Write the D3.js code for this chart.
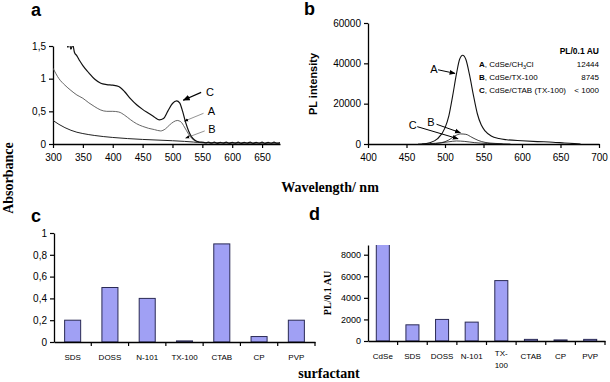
<!DOCTYPE html>
<html>
<head>
<meta charset="utf-8">
<script src="https://cdn.jsdelivr.net/npm/d3@7"></script>
<style>
  body { margin: 0; background: #fff; }
  svg { display: block; font-family: "Liberation Sans", Arial, sans-serif; }
  .serif { font-family: "Liberation Serif", "Times New Roman", serif; font-weight: bold; }
</style>
</head>
<body>
<div id="chart"></div>
<script>
// ---- panel a: absorbance spectra (wavelength, absorbance)
const absA = [[300,1.16],[310,1.0],[320,0.9],[330,0.82],[340,0.75],[350,0.7],[360,0.63],[370,0.57],[380,0.52],[390,0.5],[400,0.5],[410,0.49],[420,0.44],[430,0.37],[440,0.31],[450,0.27],[460,0.24],[470,0.22],[480,0.2],[488,0.23],[495,0.29],[502,0.34],[508,0.36],[514,0.34],[520,0.26],[527,0.15],[533,0.08],[540,0.04],[550,0.02],[570,0.015],[600,0.012],[640,0.01],[680,0.01]]
const absB = [[300,0.36],[310,0.3],[320,0.25],[330,0.21],[340,0.18],[350,0.16],[370,0.13],[400,0.1],[450,0.07],[500,0.05],[520,0.04],[535,0.03],[550,0.02],[600,0.015],[680,0.01]]
const absC = [[322,1.62],[325,1.48],[327,1.56],[330,1.45],[333,1.52],[336,1.4],[340,1.35],[345,1.27],[350,1.2],[360,1.09],[370,0.99],[380,0.93],[390,0.91],[400,0.9],[410,0.88],[420,0.8],[430,0.69],[440,0.6],[450,0.53],[460,0.47],[470,0.41],[478,0.37],[485,0.39],[492,0.5],[500,0.62],[507,0.66],[512,0.63],[517,0.5],[522,0.33],[527,0.2],[532,0.11],[537,0.06],[545,0.03],[552,0.025],[556,0.015],[560,0.03],[565,0.012],[570,0.028],[575,0.01],[580,0.025],[585,0.012],[590,0.03],[595,0.01],[600,0.025],[605,0.012],[610,0.028],[615,0.01],[620,0.025],[625,0.012],[630,0.03],[635,0.01],[640,0.025],[645,0.012],[650,0.028],[655,0.01],[660,0.025],[665,0.012],[670,0.028],[675,0.012],[680,0.02]]
const absTicks = [0, 0.5, 1, 1.5]
const wlTicksA = [300,350,400,450,500,550,600,650]

// ---- panel b: PL spectra (wavelength, intensity)
const plA = [[470,0],[480,600],[490,2500],[500,8000],[505,14000],[510,24000],[515,35000],[519,42000],[523,44000],[527,42000],[532,34000],[537,24000],[542,15000],[547,9500],[552,6500],[560,4000],[570,2700],[580,2100],[600,1600],[620,1200],[640,900],[655,500],[668,200],[676,0]]
const plB = [[480,0],[495,600],[505,2000],[513,4000],[520,5000],[527,4800],[535,3300],[543,1800],[552,800],[565,300],[585,0]]
const plC = [[465,0],[480,200],[495,600],[505,1100],[515,1500],[525,1300],[538,700],[555,250],[575,0]]
const plTicks = [0, 20000, 40000, 60000]
const wlTicksB = [400,450,500,550,600,650,700]
const legendRows = [
  {key: "A", name: "CdSe/CH", sub: "3", tail: "Cl", value: "12444"},
  {key: "B", name: "CdSe/TX-100", sub: "", tail: "", value: "8745"},
  {key: "C", name: "CdSe/CTAB (TX-100)", sub: "", tail: "", value: "< 1000"}
]

// ---- panel c: absorbance per surfactant
const surfC = ["SDS","DOSS","N-101","TX-100","CTAB","CP","PVP"]
const absBar = [0.2, 0.5, 0.4, 0.01, 0.9, 0.05, 0.2]
const absBarTicks = [0, 0.2, 0.4, 0.6, 0.8, 1]

// ---- panel d: PL per 0.1 AU
const surfD = ["CdSe","SDS","DOSS","N-101","TX-100","CTAB","CP","PVP"]
const plBar = [12444, 1500, 2000, 1750, 5600, 150, 100, 150]
const plBarTicks = [0, 2000, 4000, 6000, 8000]

const W = 610, H = 382
const comma = d => String(d).replace(".", ",")
const plain = d3.format("d")
const barFill = "#a0a0f4", barStroke = "#2a2a55"

const svg = d3.select("#chart").append("svg").attr("width", W).attr("height", H)
svg.append("rect").attr("width", W).attr("height", H).attr("fill", "#fff")

const defs = svg.append("defs")
defs.append("marker").attr("id", "arr").attr("viewBox", "0 0 10 10")
  .attr("refX", 9).attr("refY", 5).attr("markerWidth", 6).attr("markerHeight", 6)
  .attr("orient", "auto")
  .append("path").attr("d", "M0,1 L10,5 L0,9 z").attr("fill", "#000")

function styleAxis(g, fs) {
  g.select(".domain").attr("stroke", "#000").attr("stroke-width", 1.3)
  g.selectAll(".tick line").attr("stroke", "#000").attr("stroke-width", 1.2)
  g.selectAll("text").attr("font-size", fs).attr("fill", "#000")
    .attr("font-family", "'Liberation Sans', Arial, sans-serif")
}

// ================= panel a =================
const xa = d3.scaleLinear().domain([300, 680]).range([53, 280])
const ya = d3.scaleLinear().domain([0, 1.5]).range([144, 46])

defs.append("clipPath").attr("id", "clipA").append("rect")
  .attr("x", 53).attr("y", 46).attr("width", 230).attr("height", 100)

svg.append("g").attr("transform", "translate(0,144)")
  .call(d3.axisBottom(xa).tickValues(wlTicksA).tickSizeInner(4).tickSizeOuter(0).tickPadding(6))
  .call(g => styleAxis(g, 10))
svg.append("g").attr("transform", "translate(53,0)")
  .call(d3.axisLeft(ya).tickValues(absTicks).tickFormat(comma).tickSizeInner(4).tickSizeOuter(0).tickPadding(3))
  .call(g => styleAxis(g, 10))

const lineA = d3.line().x(d => xa(d[0])).y(d => ya(d[1])).curve(d3.curveMonotoneX)
const aCurves = [
  {data: absB, stroke: "#222", w: 1},
  {data: absA, stroke: "#555", w: 0.9},
  {data: absC, stroke: "#111", w: 1.2}
]
svg.append("g").attr("clip-path", "url(#clipA)")
  .selectAll("path").data(aCurves).join("path")
  .attr("d", d => lineA(d.data)).attr("fill", "none")
  .attr("stroke", d => d.stroke).attr("stroke-width", d => d.w)

// annotations panel a
const annA = [
  {label: "C", tail: [548, 0.79], tip: [518, 0.67], lx: 556, ly: 0.79},
  {label: "A", tail: [552, 0.47], tip: [520, 0.35], lx: 559, ly: 0.5},
  {label: "B", tail: [554, 0.2], tip: [522, 0.09], lx: 560, ly: 0.22}
]
svg.append("g").selectAll("line").data(annA).join("line")
  .attr("x1", d => xa(d.tail[0])).attr("y1", d => ya(d.tail[1]))
  .attr("x2", d => xa(d.tip[0])).attr("y2", d => ya(d.tip[1]))
  .attr("stroke", d => d.label === "C" ? "#000" : "#666")
  .attr("stroke-width", d => d.label === "C" ? 1.2 : 0.7)
  .attr("marker-end", "url(#arr)")
svg.append("g").selectAll("text").data(annA).join("text")
  .attr("x", d => xa(d.lx)).attr("y", d => ya(d.ly)).attr("dy", "0.35em")
  .attr("font-size", 11).text(d => d.label)

// ================= panel b =================
const xb = d3.scaleLinear().domain([400, 700]).range([368, 599])
const yb = d3.scaleLinear().domain([0, 60000]).range([144, 23])

svg.append("g").attr("transform", "translate(0,144)")
  .call(d3.axisBottom(xb).tickValues(wlTicksB).tickSizeInner(4).tickSizeOuter(0).tickPadding(6))
  .call(g => styleAxis(g, 10))
svg.append("g").attr("transform", "translate(368,0)")
  .call(d3.axisLeft(yb).tickValues(plTicks).tickFormat(plain).tickSizeInner(4).tickSizeOuter(0).tickPadding(3))
  .call(g => styleAxis(g, 10))

const lineB = d3.line().x(d => xb(d[0])).y(d => yb(d[1])).curve(d3.curveMonotoneX)
svg.append("g").selectAll("path").data([plC, plB, plA]).join("path")
  .attr("d", d => lineB(d)).attr("fill", "none")
  .attr("stroke", "#111").attr("stroke-width", (d, i) => i === 2 ? 1.1 : 0.8)

const annB = [
  {label: "A", tail: [491, 36800], tip: [513, 35000], lx: 481, ly: 37000},
  {label: "B", tail: [489, 9800], tip: [520, 5600], lx: 477, ly: 10800},
  {label: "C", tail: [464, 8600], tip: [517, 2600], lx: 453, ly: 9200}
]
svg.append("g").selectAll("line").data(annB).join("line")
  .attr("x1", d => xb(d.tail[0])).attr("y1", d => yb(d.tail[1]))
  .attr("x2", d => xb(d.tip[0])).attr("y2", d => yb(d.tip[1]))
  .attr("stroke", "#000").attr("stroke-width", 1).attr("marker-end", "url(#arr)")
svg.append("g").selectAll("text").data(annB).join("text")
  .attr("x", d => xb(d.lx)).attr("y", d => yb(d.ly)).attr("dy", "0.35em")
  .attr("font-size", 11).text(d => d.label)

// legend in panel b
svg.append("text").attr("x", 599).attr("y", 54).attr("text-anchor", "end")
  .attr("font-size", 8.5).attr("font-weight", "bold").text("PL/0.1 AU")
const leg = svg.append("g").selectAll("g").data(legendRows).join("g")
  .attr("transform", (d, i) => `translate(0,${67 + i * 13})`)
leg.append("text").attr("x", 479).attr("font-size", 8)
  .each(function (d) {
    const t = d3.select(this)
    t.append("tspan").attr("font-weight", "bold").text(d.key)
    t.append("tspan").text(", " + d.name)
    if (d.sub) {
      t.append("tspan").attr("font-size", 5.5).attr("dy", 2).text(d.sub)
      t.append("tspan").attr("dy", -2).text(d.tail)
    }
  })
leg.append("text").attr("x", 599).attr("text-anchor", "end").attr("font-size", 8)
  .text(d => d.value)

// ================= panel c =================
const xc = d3.scaleBand().domain(surfC).range([54, 315]).paddingInner(0.57).paddingOuter(0.285)
const xcT = d3.scaleBand().domain(surfC).range([54, 315])
const yc = d3.scaleLinear().domain([0, 1]).range([342, 233])

svg.append("g").selectAll("rect").data(surfC).join("rect")
  .attr("x", d => xc(d)).attr("width", xc.bandwidth())
  .attr("y", (d, i) => yc(absBar[i])).attr("height", (d, i) => yc(0) - yc(absBar[i]))
  .attr("fill", barFill).attr("stroke", barStroke).attr("stroke-width", 1)

svg.append("g").attr("transform", "translate(0,342)")
  .call(d3.axisBottom(xcT).tickSize(0).tickPadding(12))
  .call(g => styleAxis(g, 8))
  .call(g => g.selectAll(".sep").data(surfC).join("line").attr("class", "sep")
    .attr("x1", d => xcT(d) + xcT.bandwidth()).attr("x2", d => xcT(d) + xcT.bandwidth())
    .attr("y1", 0).attr("y2", 4).attr("stroke", "#000").attr("stroke-width", 1.2))
svg.append("g").attr("transform", "translate(54,0)")
  .call(d3.axisLeft(yc).tickValues(absBarTicks).tickFormat(comma).tickSizeInner(4).tickSizeOuter(0).tickPadding(3))
  .call(g => styleAxis(g, 10))

// ================= panel d =================
const xd = d3.scaleBand().domain(surfD).range([368, 605]).paddingInner(0.56).paddingOuter(0.28)
const xdT = d3.scaleBand().domain(surfD).range([368, 605])
const yd = d3.scaleLinear().domain([0, 8900]).range([341, 245])

defs.append("clipPath").attr("id", "clipD").append("rect")
  .attr("x", 368).attr("y", 245).attr("width", 240).attr("height", 100)
svg.append("g").attr("clip-path", "url(#clipD)")
  .selectAll("rect").data(surfD).join("rect")
  .attr("x", d => xd(d)).attr("width", xd.bandwidth())
  .attr("y", (d, i) => yd(plBar[i])).attr("height", (d, i) => yd(0) - yd(plBar[i]))
  .attr("fill", barFill).attr("stroke", barStroke).attr("stroke-width", 1)

svg.append("g").attr("transform", "translate(0,341)")
  .call(d3.axisBottom(xdT).tickSize(0).tickPadding(12).tickFormat(d => d === "TX-100" ? "" : d))
  .call(g => styleAxis(g, 8))
  .call(g => g.selectAll(".sep").data(surfD).join("line").attr("class", "sep")
    .attr("x1", d => xdT(d) + xdT.bandwidth()).attr("x2", d => xdT(d) + xdT.bandwidth())
    .attr("y1", 0).attr("y2", 4).attr("stroke", "#000").attr("stroke-width", 1.2))
// wrapped label for TX-100
svg.append("text").attr("x", xdT("TX-100") + xdT.bandwidth() / 2).attr("y", 356)
  .attr("text-anchor", "middle").attr("font-size", 8)
  .call(t => {
    t.append("tspan").text("TX-")
    t.append("tspan").attr("x", xdT("TX-100") + xdT.bandwidth() / 2).attr("dy", 12).text("100")
  })
svg.append("g").attr("transform", "translate(368,0)")
  .call(d3.axisLeft(yd).tickValues(plBarTicks).tickFormat(plain).tickSizeInner(4).tickSizeOuter(0).tickPadding(3))
  .call(g => styleAxis(g, 9))

// ================= labels =================
const letters = [["a", 31, 16], ["b", 304, 15], ["c", 31, 222], ["d", 309, 220]]
svg.append("g").selectAll("text").data(letters).join("text")
  .attr("x", d => d[1]).attr("y", d => d[2])
  .attr("font-size", 18).attr("font-weight", "bold").text(d => d[0])

svg.append("text").attr("transform", "translate(317,84) rotate(-90)")
  .attr("text-anchor", "middle").attr("font-size", 11).attr("font-weight", "bold")
  .text("PL intensity")

svg.append("text").attr("class", "serif").attr("transform", "translate(13,178) rotate(-90)")
  .attr("text-anchor", "middle").attr("font-size", 14).text("Absorbance")
svg.append("text").attr("class", "serif").attr("x", 330).attr("y", 192)
  .attr("text-anchor", "middle").attr("font-size", 14).text("Wavelength/ nm")
svg.append("text").attr("class", "serif").attr("x", 329).attr("y", 378)
  .attr("text-anchor", "middle").attr("font-size", 14).text("surfactant")
svg.append("text").attr("class", "serif").attr("transform", "translate(331,293) rotate(-90)")
  .attr("text-anchor", "middle").attr("font-size", 10).text("PL/0.1 AU")
</script>
</body>
</html>
